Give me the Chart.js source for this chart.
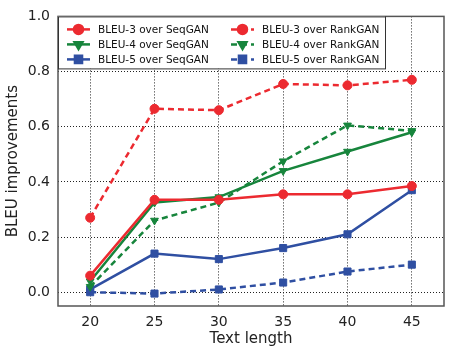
<!DOCTYPE html>
<html>
<head>
<meta charset="utf-8">
<script src="https://cdn.jsdelivr.net/npm/chart.js@4"></script>
<style>
  body { margin: 0; background: #fff; }
  #wrap { width: 450px; height: 352px; }
</style>
</head>
<body>
<div id="wrap"><canvas id="chart"></canvas></div>
<script>
const textLengths = [20, 25, 30, 35, 40, 45];
const yTicks = [0.0, 0.2, 0.4, 0.6, 0.8, 1.0];

const bleu3Seq  = [0.06, 0.335, 0.335, 0.355, 0.355, 0.385];
const bleu3Rank = [0.27, 0.665, 0.66, 0.755, 0.75, 0.77];
const bleu4Seq  = [0.04, 0.325, 0.345, 0.44, 0.51, 0.58];
const bleu4Rank = [0.02, 0.26, 0.325, 0.475, 0.605, 0.585];
const bleu5Seq  = [0.01, 0.14, 0.12, 0.16, 0.21, 0.37];
const bleu5Rank = [0.0, -0.005, 0.01, 0.035, 0.075, 0.10];

const RED = '#ec2a30', GREEN = '#17853c', BLUE = '#2f4fa2';
const FONT = 'DejaVu Sans';

function series(label, values, color, style, dashed) {
    return {
        label: label,
        data: values.map((v, i) => ({x: textLengths[i], y: v})),
        borderColor: color,
        backgroundColor: color,
        borderWidth: 2.5,
        borderDash: dashed ? [6, 4] : [],
        pointStyle: style,
        pointRotation: style === 'triangle' ? 180 : 0,
        pointRadius: style === 'rect' ? 5 : 4.5,
        pointBorderWidth: 1,
        tension: 0
    };
}

// legend drawn inside the plot, two columns, boxed
const boxLegend = {
    id: 'boxLegend',
    afterDraw(chart) {
        const ctx = chart.ctx;
        const a = chart.chartArea;
        ctx.save();
        // frame round the plot
        ctx.strokeStyle = '#555';
        ctx.lineWidth = 1.5;
        ctx.strokeRect(a.left, a.top, a.right - a.left, a.bottom - a.top);

        const x0 = a.left, y0 = a.top, w = 327, h = 52;
        ctx.fillStyle = '#fff';
        ctx.fillRect(x0, y0, w, h);
        ctx.strokeStyle = '#333';
        ctx.lineWidth = 1;
        ctx.strokeRect(x0 + 0.5, y0 + 0.5, w, h);

        ctx.font = '10.5px "' + FONT + '"';
        ctx.textBaseline = 'middle';
        const ds = chart.data.datasets;
        ds.forEach((d, i) => {
            const col = i % 2, row = Math.floor(i / 2);
            const lx = x0 + 9 + col * 164;
            const ly = y0 + 13 + row * 15;
            ctx.strokeStyle = d.borderColor;
            ctx.lineWidth = d.borderWidth;
            ctx.setLineDash(d.borderDash);
            ctx.beginPath();
            ctx.moveTo(lx, ly);
            ctx.lineTo(lx + 23, ly);
            ctx.stroke();
            ctx.setLineDash([]);
            ctx.fillStyle = d.backgroundColor;
            Chart.helpers.drawPoint(ctx, {
                pointStyle: d.pointStyle,
                rotation: d.pointRotation,
                radius: d.pointRadius,
                borderWidth: 1
            }, lx + 11.5, ly);
            ctx.fillStyle = '#111';
            ctx.fillText(d.label, lx + 31, ly + 1);
        });
        ctx.restore();
    }
};

new Chart(document.getElementById('chart').getContext('2d'), {
    type: 'line',
    data: {
        datasets: [
            series('BLEU-3 over SeqGAN', bleu3Seq, RED, 'circle', false),
            series('BLEU-3 over RankGAN', bleu3Rank, RED, 'circle', true),
            series('BLEU-4 over SeqGAN', bleu4Seq, GREEN, 'triangle', false),
            series('BLEU-4 over RankGAN', bleu4Rank, GREEN, 'triangle', true),
            series('BLEU-5 over SeqGAN', bleu5Seq, BLUE, 'rect', false),
            series('BLEU-5 over RankGAN', bleu5Rank, BLUE, 'rect', true)
        ]
    },
    options: {
        responsive: true,
        maintainAspectRatio: false,
        animation: false,
        layout: {padding: {top: 10, right: 3, left: 0, bottom: 0}},
        plugins: {
            legend: {display: false},
            tooltip: {enabled: false}
        },
        scales: {
            x: {
                type: 'linear',
                min: 17.5,
                max: 47.5,
                afterBuildTicks: s => { s.ticks = textLengths.map(v => ({value: v})); },
                afterFit: s => { s.height = 46; },
                grid: {color: '#222', tickLength: 0, drawTicks: false},
                border: {display: false, dash: [1, 2]},
                ticks: {color: '#222', font: {family: FONT, size: 14}, padding: 8},
                title: {display: true, text: 'Text length', color: '#222',
                        font: {family: FONT, size: 15}, padding: {top: 0}}
            },
            y: {
                min: -0.05,
                max: 1.0,
                afterBuildTicks: s => { s.ticks = yTicks.map(v => ({value: v})); },
                afterFit: s => { s.width = 58; },
                grid: {color: '#222', tickLength: 0, drawTicks: false},
                border: {display: false, dash: [1, 2]},
                ticks: {color: '#222', font: {family: FONT, size: 14}, padding: 8,
                        callback: v => v.toFixed(1)},
                title: {display: true, text: 'BLEU improvements', color: '#222',
                        font: {family: FONT, size: 15}, padding: {top: 4, bottom: 2}}
            }
        }
    },
    plugins: [boxLegend]
});
</script>
</body>
</html>
